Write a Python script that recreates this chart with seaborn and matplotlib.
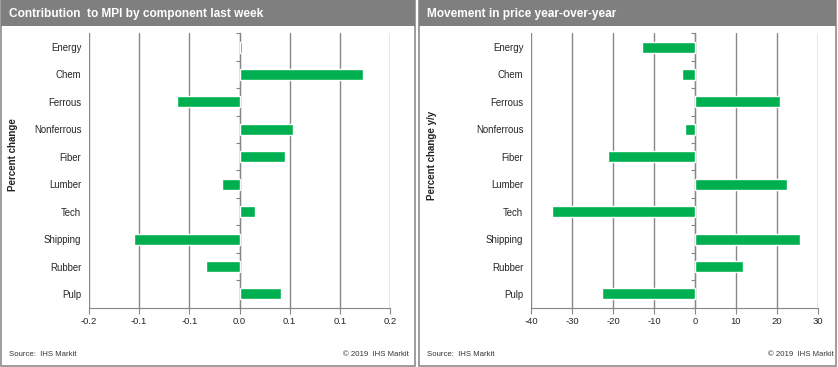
import matplotlib
matplotlib.use("Agg")
import matplotlib.pyplot as plt
from matplotlib.patches import Rectangle
from matplotlib.ticker import FixedLocator, FuncFormatter
import seaborn as sns
import pandas as pd
import numpy as np

# Data
components = ['Energy', 'Chem', 'Ferrous', 'Nonferrous', 'Fiber',
              'Lumber', 'Tech', 'Shipping', 'Rubber', 'Pulp']
contribution = [0.003, 0.164, -0.083, 0.071, 0.061,
                -0.023, 0.021, -0.140, -0.045, 0.055]
yoy_change = [-12.9, -3.2, 20.8, -2.4, -21.2,
              22.5, -34.9, 25.6, 11.7, -22.7]

left_title = 'Contribution  to MPI by component last week'
right_title = 'Movement in price year-over-year'
left_ylabel = 'Percent change'
right_ylabel = 'Percent change y/y'
left_ticks = np.linspace(-0.2, 0.2, 7)
right_ticks = [-40, -30, -20, -10, 0, 10, 20, 30]

GREEN = '#00b050'
GRID = '#878787'
HEADER = '#7f7f7f'
W, H = 838, 367

sns.set_style("white")
plt.rcParams['font.family'] = ['Liberation Sans', 'DejaVu Sans']

fig = plt.figure(figsize=(W / 100, H / 100), dpi=100)


def px(x0, y0, x1, y1):
    # pixel box (top-left origin) -> figure fraction rect
    return [x0 / W, 1 - y1 / H, (x1 - x0) / W, (y1 - y0) / H]


def panel(x0, x1, title, ylabel, ylabel_x, copy_x):
    fig.patches.append(Rectangle((x0 / W, 1 / H), (x1 - x0) / W, (H - 1) / H,
                                 transform=fig.transFigure, facecolor='white',
                                 edgecolor='#8c8c8c', lw=1.2, zorder=-2))
    fig.patches.append(Rectangle((x0 / W, 1 - 26 / H), (x1 - x0) / W, 26 / H,
                                 transform=fig.transFigure, facecolor=HEADER,
                                 edgecolor='none', zorder=-1))
    fig.text((x0 + 8) / W, 1 - 13.5 / H, title, color='white', fontsize=8.6,
             fontweight='bold', va='center', ha='left')
    fig.text(ylabel_x / W, 1 - 155 / H, ylabel, rotation=90, fontsize=7.0,
             fontweight='bold', va='center', ha='center', color='#222222')
    fig.text((x0 + 8) / W, 1 - 354 / H, 'Source:  IHS Markit', fontsize=5.6,
             va='center', ha='left', color='#333333')
    fig.text(copy_x / W, 1 - 354 / H, '\u00a9 2019  IHS Markit', fontsize=5.6,
             va='center', ha='right', color='#333333')


def bars(ax, values, ticks, fmt, zero_frac):
    df = pd.DataFrame({'component': components, 'value': values})
    sns.barplot(data=df, x='value', y='component', orient='h', color=GREEN,
                width=0.4, saturation=1, ax=ax, zorder=3)
    ax.set_xlim(ticks[0], ticks[-1])
    ax.set_ylim(len(components) - 0.5, -0.5)
    ax.xaxis.set_major_locator(FixedLocator(ticks))
    ax.xaxis.set_major_formatter(FuncFormatter(fmt))
    ax.grid(axis='x', color=GRID, lw=1, zorder=0)
    ax.set_xlabel('')
    ax.set_ylabel('')
    ax.patch.set_alpha(0)
    for s in ['top', 'right', 'left']:
        ax.spines[s].set_visible(False)
    ax.spines['bottom'].set_color(GRID)
    ax.tick_params(axis='x', bottom=True, length=4, color=GRID, labelsize=6.8,
                   pad=3)
    ax.tick_params(axis='y', left=False, labelsize=6.9, pad=2)
    # category separators on the zero line
    sec = ax.secondary_yaxis(zero_frac)
    sec.set_yticks(np.arange(len(components) + 1) - 0.5)
    sec.set_yticklabels([])
    sec.tick_params(length=3, color=GRID, direction='in')
    sec.spines['left'].set_color(GRID)


panel(1, 415, left_title, left_ylabel, 13, 409)
panel(419, 836, right_title, right_ylabel, 432, 834)

ax1 = fig.add_axes(px(89, 33.3, 390, 307.7))
bars(ax1, contribution, left_ticks, lambda v, p: f'{v:.1f}'.replace('-0.0', '0.0'), 0.5)

ax2 = fig.add_axes(px(531, 33.3, 818, 307.7))
bars(ax2, yoy_change, right_ticks, lambda v, p: f'{v:.0f}', 40 / 70)

fig.savefig('out.png', dpi=100)
